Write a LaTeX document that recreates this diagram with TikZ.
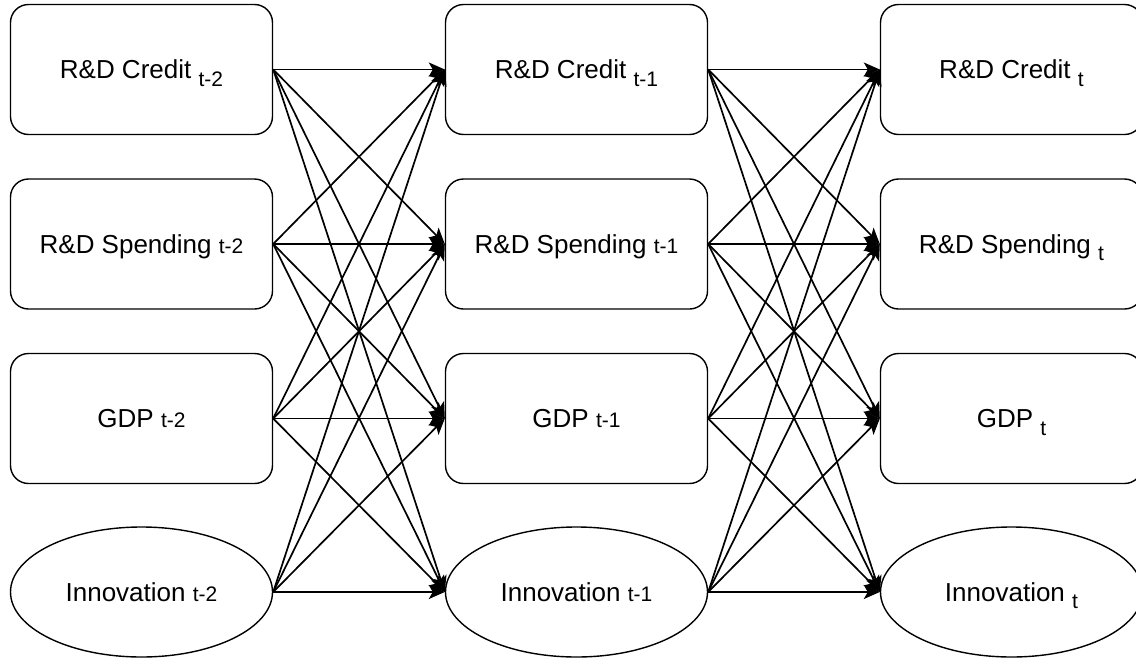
\documentclass[tikz,border=0pt]{standalone}
\usepackage{fontspec}
\setmainfont{Liberation Sans}
\usetikzlibrary{arrows.meta,shapes.geometric}

% index set lowered below the baseline / set on the baseline
\newcommand\lowidx[1]{\raisebox{-7.5pt}{\fontsize{21}{25}\selectfont #1}}
\newcommand\baseidx[1]{{\fontsize{21}{25}\selectfont #1}}

\begin{document}
\begin{tikzpicture}[x=1pt,y=-1pt,
  var/.style={draw, line width=1.4pt, minimum width=262pt, minimum height=130pt,
    inner sep=0pt, text height=18.5pt, text depth=0pt,
    font=\fontsize{26}{31}\selectfont},
  box/.style={var, rectangle, rounded corners=18pt},
  oval/.style={var, ellipse},
  link/.style={line width=1.7pt, -{Stealth[length=16pt,width=14pt,inset=4pt]}}
]
\useasboundingbox (0,0) rectangle (1136,659);
\clip (0,0) rectangle (1136,659);

% period t-2
\node[box]  (c1) at (141.5,69.5)  {R\&D Credit \lowidx{t-2}};
\node[box]  (s1) at (141.5,244)   {R\&D Spending \baseidx{t-2}};
\node[box]  (g1) at (141.5,418.5) {GDP \baseidx{t-2}};
\node[oval] (i1) at (141.5,592)   {Innovation \baseidx{t-2}};

% period t-1
\node[box]  (c2) at (576.5,69.5)  {R\&D Credit \lowidx{t-1}};
\node[box]  (s2) at (576.5,244)   {R\&D Spending \baseidx{t-1}};
\node[box]  (g2) at (576.5,418.5) {GDP \baseidx{t-1}};
\node[oval] (i2) at (576.5,592)   {Innovation \baseidx{t-1}};

% period t
\node[box]  (c3) at (1011.5,69.5)  {R\&D Credit \lowidx{t}};
\node[box]  (s3) at (1011.5,244)   {R\&D Spending \lowidx{t}};
\node[box]  (g3) at (1011.5,418.5) {GDP \lowidx{t}};
\node[oval] (i3) at (1011.5,592)   {Innovation \lowidx{t}};

% every variable feeds every variable of the next period
\foreach \a in {c1,s1,g1,i1}
  \foreach \b in {c2,s2,g2,i2}
    \draw[link] (\a.east) -- (\b.west);
\foreach \a in {c2,s2,g2,i2}
  \foreach \b in {c3,s3,g3,i3}
    \draw[link] (\a.east) -- (\b.west);
\end{tikzpicture}
\end{document}
